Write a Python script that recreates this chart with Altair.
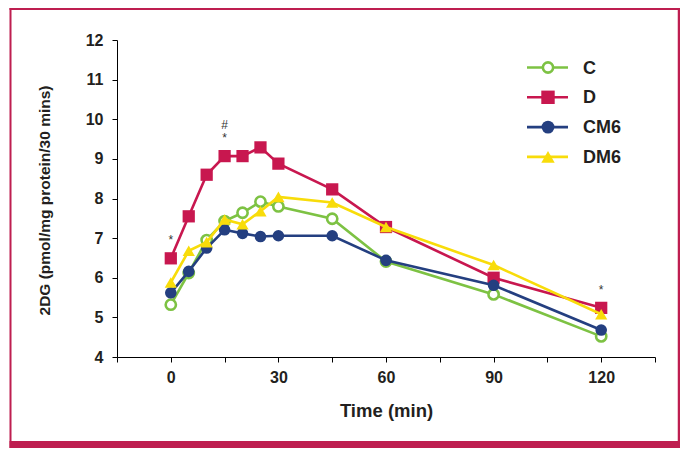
import altair as alt
import pandas as pd

# ---------------- data ----------------
time_min = [0, 5, 10, 15, 20, 25, 30, 45, 60, 90, 120]
series_names = ["C", "D", "CM6", "DM6"]
val_C = [5.32, 6.12, 6.95, 7.43, 7.64, 7.92, 7.80, 7.49, 6.41, 5.58, 4.52]
val_D = [6.49, 7.55, 8.60, 9.07, 9.07, 9.29, 8.88, 8.23, 7.28, 6.00, 5.24]
val_CM6 = [5.62, 6.16, 6.75, 7.21, 7.12, 7.04, 7.06, 7.06, 6.44, 5.81, 4.68]
val_DM6 = [5.88, 6.68, 6.90, 7.47, 7.35, 7.68, 8.04, 7.90, 7.28, 6.32, 5.08]
values = {"C": val_C, "D": val_D, "CM6": val_CM6, "DM6": val_DM6}

ann_time = [0, 15, 15, 120]
ann_value = [6.95, 9.53, 9.86, 5.69]
ann_text = ["*", "*", "#", "*"]

x_ticks = [-15, 0, 15, 30, 45, 60, 75, 90, 105, 120, 135]
y_ticks = [4, 5, 6, 7, 8, 9, 10, 11, 12]

# ---------------- style ----------------
FONT = "Liberation Sans"
TXT = "#231F20"
FRAME = "#BE1E50"
GREEN = "#7DC243"
CRIMSON = "#C8174F"
NAVY = "#243F80"
YELLOW = "#F8DC0A"

styles = {
    "C": dict(color=GREEN, shape="circle", open=True, size=105),
    "D": dict(color=CRIMSON, shape="square", open=False, size=150),
    "CM6": dict(color=NAVY, shape="circle", open=False, size=135),
    "DM6": dict(color=YELLOW, shape="triangle-up", open=False, size=150),
}

W, H = 538, 317
PAD = {"left": 109, "top": 32, "right": 25, "bottom": 91}

xscale = alt.Scale(domain=[-15, 135], nice=False, zero=False)
yscale = alt.Scale(domain=[4, 12], nice=False, zero=False)

axis_style = dict(
    grid=False, tickSize=5,
    domainColor="black", tickColor="black", domainWidth=1, tickWidth=1,
    labelFont=FONT, labelFontSize=16, labelFontWeight="bold", labelColor=TXT,
    titleFont=FONT, titleFontWeight="bold", titleColor=TXT,
    titleBaseline="middle",
)
xaxis = alt.Axis(
    values=x_ticks,
    labelExpr="datum.value % 30 == 0 ? datum.label : ''",
    title="Time (min)",
    labelPadding=7,
    titleY=53,
    titleFontSize=18.5,
    **axis_style,
)
yaxis = alt.Axis(
    values=y_ticks,
    title="2DG (pmol/mg protein/30 mins)",
    labelPadding=9,
    titleX=-73,
    titleY=160,
    titleFontSize=15.5,
    **axis_style,
)

X = alt.X("t:Q", scale=xscale, axis=xaxis)
Y = alt.Y("v:Q", scale=yscale, axis=yaxis)

layers = []

# series lines + markers, drawn in order
for name in series_names:
    st = styles[name]
    df = pd.DataFrame({"t": time_min, "v": values[name], "s": name})
    base = alt.Chart(df).encode(x=X, y=Y)
    layers.append(base.mark_line(color=st["color"], strokeWidth=2.6))
    if st["open"]:
        pts = base.mark_point(shape=st["shape"], size=st["size"], fill="white",
                              fillOpacity=1, stroke=st["color"], strokeWidth=2.6, opacity=1)
    else:
        pts = base.mark_point(shape=st["shape"], size=st["size"], filled=True,
                              color=st["color"], opacity=1)
    layers.append(pts)

# significance annotations
ann_df = pd.DataFrame({"t": ann_time, "v": ann_value, "txt": ann_text})
layers.append(
    alt.Chart(ann_df).mark_text(font=FONT, fontSize=12, color="#333333", baseline="middle")
    .encode(x=X, y=Y, text="txt:N")
)

# manual legend (layout positions in pixels)
LEG_X0, LEG_X1, LEG_MX, LEG_TX = 410, 451, 431, 466
LEG_Y0, LEG_DY = 27.5, 29.8
for i, name in enumerate(series_names):
    st = styles[name]
    ly = LEG_Y0 + i * LEG_DY
    ldf = pd.DataFrame({"s": [name]})
    lc = alt.Chart(ldf)
    layers.append(lc.mark_rule(color=st["color"], strokeWidth=2.6).encode(
        x=alt.value(LEG_X0), x2=alt.value(LEG_X1), y=alt.value(ly)))
    if st["open"]:
        mk = lc.mark_point(shape=st["shape"], size=st["size"], fill="white", fillOpacity=1,
                           stroke=st["color"], strokeWidth=2.6, opacity=1)
    else:
        mk = lc.mark_point(shape=st["shape"], size=st["size"] + 30, filled=True,
                           color=st["color"], opacity=1)
    layers.append(mk.encode(x=alt.value(LEG_MX), y=alt.value(ly)))
    layers.append(lc.mark_text(font=FONT, fontSize=18, fontWeight="bold", color=TXT,
                               align="left", baseline="middle").encode(
        x=alt.value(LEG_TX), y=alt.value(ly + 1), text="s:N"))

# decorative frame
fdf = pd.DataFrame({"k": [0]})
fc = alt.Chart(fdf)
layers.append(fc.mark_rule(color=FRAME, strokeWidth=2).encode(
    x=alt.value(-106.5), y=alt.value(-32), y2=alt.value(408)))
layers.append(fc.mark_rule(color=FRAME, strokeWidth=2.5).encode(
    x=alt.value(562), y=alt.value(-32), y2=alt.value(408)))
layers.append(fc.mark_rule(color=FRAME, strokeWidth=2).encode(
    x=alt.value(-107.5), x2=alt.value(563), y=alt.value(-31)))
layers.append(fc.mark_rect(color=FRAME).encode(
    x=alt.value(-107.5), x2=alt.value(563.3), y=alt.value(401), y2=alt.value(408)))

chart = alt.layer(*layers).properties(
    width=W, height=H,
    autosize=alt.AutoSizeParams(type="none"),
    padding=PAD,
    background="white",
).configure_view(stroke=None)

chart.save("out.html", embed_options={"renderer": "svg", "actions": False})
